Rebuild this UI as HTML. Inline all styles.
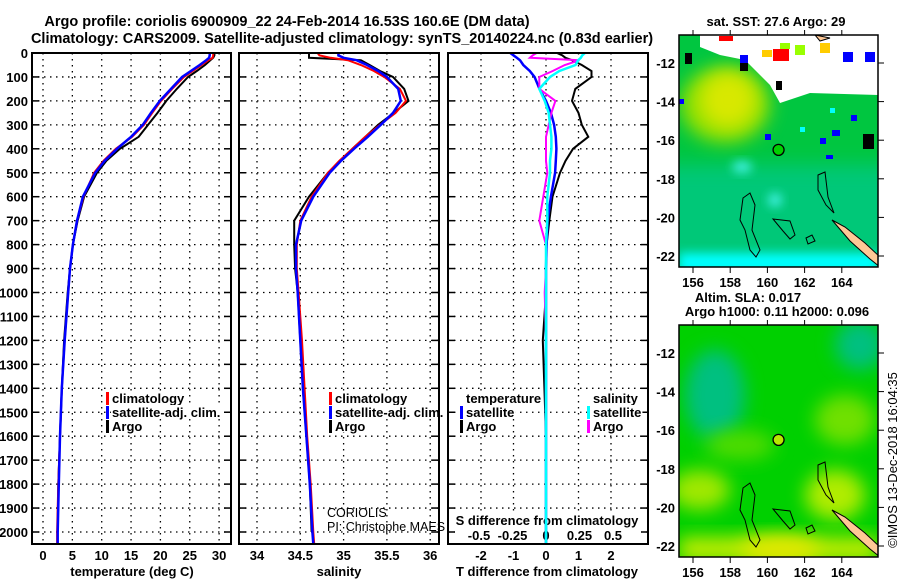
<!DOCTYPE html>
<html><head><meta charset="utf-8"><style>
html,body{margin:0;padding:0;background:#fff;}
svg{display:block;font-family:"Liberation Sans",sans-serif;}
.t{font-weight:bold;font-size:13px;}
</style></head><body>
<svg id="c" width="900" height="580" xmlns="http://www.w3.org/2000/svg">
<defs>
<filter id="bl" x="-50%" y="-50%" width="200%" height="200%"><feGaussianBlur stdDeviation="9"/></filter>
<filter id="bl2" x="-50%" y="-50%" width="200%" height="200%"><feGaussianBlur stdDeviation="5"/></filter>
<clipPath id="m1"><rect x="679" y="35" width="199" height="232"/></clipPath>
<clipPath id="m2"><rect x="679" y="325" width="199" height="232"/></clipPath>
</defs>
<text x="287" y="26" text-anchor="middle" font-weight="bold" font-size="14.5">Argo profile: coriolis 6900909_22 24-Feb-2014 16.53S 160.6E (DM data)</text>
<text x="342" y="43" text-anchor="middle" font-weight="bold" font-size="14.5">Climatology: CARS2009. Satellite-adjusted climatology: synTS_20140224.nc (0.83d earlier)</text>
<g id="g"></g>
</svg>
<script>
// ---------- data ----------
const depths = [0,10,20,30,50,75,100,150,200,250,300,350,400,450,500,600,700,800,900,1000,1200,1400,1600,1800,2000,2050];
const tempSat  = [28.4,28.4,28.3,27.8,26.7,25.2,23.7,21.8,19.9,18.4,17,15,12.6,10.5,8.9,6.8,5.8,5.1,4.6,4.3,3.7,3.2,2.9,2.7,2.5,2.5];
const tempClim = [29,29,28.9,28.2,27,25.5,24,22,20.1,18.6,17.2,15.2,12.4,10.3,8.7,6.9,5.8,5.1,4.6,4.3,3.7,3.2,2.9,2.6,2.4,2.4];
const tempArgo = [29.2,29.2,29,28.5,27.6,26.2,24.7,22.8,21,19.5,17.9,16.3,13.1,10.8,9.2,7,5.9,5.1,4.6,4.2,3.6,3.2,2.9,2.6,2.5];
const salSat  = [34.94,34.94,35.0,35.15,35.27,35.4,35.5,35.63,35.66,35.57,35.43,35.28,35.12,34.97,34.84,34.65,34.51,34.45,34.45,34.47,34.5,34.53,34.57,34.61,34.64,34.65];
const salClim = [34.7,34.72,34.85,35.05,35.2,35.35,35.47,35.65,35.72,35.6,35.42,35.25,35.1,34.95,34.82,34.63,34.5,34.46,34.46,34.48,34.52,34.55,34.58,34.62,34.65,34.66];
const salArgo = [34.6,34.6,34.6,35.2,35.3,35.42,35.57,35.7,35.75,35.58,35.4,35.25,35.1,34.96,34.82,34.6,34.43,34.43,34.44,34.47,34.5,34.53,34.57,34.61,34.63];
const tDiffArgo = [0.34,0.5,0.6,0.8,1.1,1.4,1.4,0.9,0.8,1.0,1.1,1.3,0.83,0.6,0.43,0.2,0.1,0.02,0,0,-0.1,-0.05,0,0,0];
const tDiffSat  = [-1.1,-1.0,-0.9,-0.8,-0.7,-0.5,-0.35,-0.2,0,0.15,0.25,0.3,0.32,0.3,0.28,0.15,0.05,0.02,0,0,0,0,0,0,0,0];
const sDiffArgo = [-0.07,-0.1,-0.12,0.25,0.14,0.05,-0.05,-0.05,0.07,0.04,0.02,0,0,0,0.01,-0.02,-0.05,0,0,-0.01,0,0,0,0,0];
const sDiffSat  = [0.29,0.27,0.26,0.24,0.22,0.1,0.03,-0.05,-0.01,0.02,0.03,0.04,0.04,0.03,0.03,0.01,0.01,0,0,0,0,0,0,0,0,0];
const depthTicks = [0,100,200,300,400,500,600,700,800,900,1000,1100,1200,1300,1400,1500,1600,1700,1800,1900,2000];
const tempTicks = [0,5,10,15,20,25,30];
const salTicks = [34,34.5,35,35.5,36];
const tdTicks = [-2,-1,0,1,2];
const sdTicks = [-0.5,-0.25,0,0.25,0.5];
const sdTickLabels = ['-0.5','-0.25','0','0.25','0.5'];
const lonTicks = [156,158,160,162,164];
const latTicks = [-12,-14,-16,-18,-20,-22];
const argoLon = 160.6, argoLat = -16.5;

// ---------- scales ----------
const yD = d => 53 + d*0.2395;
const xT = v => 43 + v*5.87;
const xS = v => 257 + (v-34)*86.6;
const xTd = v => 546 + v*32.5;
const xSd = v => 546 + v*134;
const lonX = v => 693 + (v-156)*18.6;
const latY = (v,top) => top + 28 + (-12 - v)*19.3;

const NS='http://www.w3.org/2000/svg';
const G=document.getElementById('g');
function el(tag,attrs,parent){const e=document.createElementNS(NS,tag);for(const k in attrs)e.setAttribute(k,attrs[k]);(parent||G).appendChild(e);return e;}
function txt(s,attrs,parent){const e=el('text',attrs,parent);e.textContent=s;return e;}

// panels
const panels=[{x0:32,x1:231,name:'temperature-panel'},{x0:239,x1:439,name:'salinity-panel'},{x0:448,x1:648,name:'difference-panel'}];
panels.forEach((p,i)=>{
  const g=el('g',{});
  
  
  depthTicks.forEach(d=>{
    const y=yD(d);
    el('line',{x1:p.x0,x2:p.x1,y1:y,y2:y,stroke:'#000','stroke-width':1.3,'stroke-dasharray':'1.5,4.5'},g);
    el('line',{x1:p.x1-7,x2:p.x1,y1:y,y2:y,stroke:'#000','stroke-width':1.5},g);
    el('line',{x1:p.x0,x2:p.x0+7,y1:y,y2:y,stroke:'#000','stroke-width':1.5},g);
  });
  const xt = i==0?tempTicks.map(xT):i==1?salTicks.map(xS):tdTicks.map(xTd);
  xt.forEach(x=>{el('line',{x1:x,x2:x,y1:53,y2:544,stroke:'#000','stroke-width':1.3,'stroke-dasharray':'1.5,4.5'},g);});
});
// depth labels
depthTicks.forEach(d=>{
  const t=txt(String(d),{x:28,y:yD(d)+5,'text-anchor':'end',class:'t'});
  
  
});
tempTicks.forEach(v=>{const t=txt(String(v),{x:xT(v),y:560,'text-anchor':'middle',class:'t'});
  
  });
salTicks.forEach(v=>{const t=txt(String(v),{x:xS(v),y:560,'text-anchor':'middle',class:'t'});
  
  });
tdTicks.forEach(v=>{const t=txt(String(v),{x:xTd(v),y:560,'text-anchor':'middle',class:'t'});
  
  });
el('rect',{x:455,y:511,width:186,height:32,fill:'#fff'});
sdTicks.forEach((v,i)=>{const t=txt(sdTickLabels[i],{x:xSd(v),y:540,'text-anchor':'middle',class:'t','font-size':12});
  
  });
[['temperature (deg C)',132,'temperature-axis-title'],['salinity',339,'salinity-axis-title'],['T difference from climatology',547,'t-diff-axis-title']].forEach(a=>{
  const t=txt(a[0],{x:a[1],y:576,'text-anchor':'middle',class:'t'});
  
  
});
{const t=txt('S difference from climatology',{x:547,y:525,'text-anchor':'middle',class:'t','font-size':12});
 
 }

// series
function series(vals,xf,color,name,w){
  const pts=vals.map((v,i)=>xf(v).toFixed(1)+','+yD(depths[i]).toFixed(1)).join(' ');
  const p=el('polyline',{points:pts,fill:'none',stroke:color,'stroke-width':w||2});
  
  
}
series(tempArgo,xT,'#000','temperature-argo-line');
series(tempClim,xT,'#f00','temperature-climatology-line');
series(tempSat,xT,'#00f','temperature-satellite-line',2.5);
series(salArgo,xS,'#000','salinity-argo-line');
series(salClim,xS,'#f00','salinity-climatology-line');
series(salSat,xS,'#00f','salinity-satellite-line',2.5);
series(tDiffArgo,xTd,'#000','t-diff-argo-line');
series(tDiffSat,xTd,'#00f','t-diff-satellite-line',2.5);
series(sDiffArgo,xSd,'#f0f','s-diff-argo-line');
series(sDiffSat,xSd,'#0ff','s-diff-satellite-line',2.5);

// legends
function legend(x,rows,name){
  const g=el('g',{});
  
  
  rows.forEach(r=>{
    if(r[1]) el('rect',{x:x-1,y:r[2]-6,width:3,height:13,fill:r[1]},g);
    const t=txt(r[0],{x:x+5,y:r[2]+5,class:'t','font-size':12.5},g);
    const w=t.getComputedTextLength();
    const bg=el('rect',{x:x+4,y:r[2]-7,width:w+2,height:13,fill:'#fff'});
    g.insertBefore(bg,t);
  });
}
legend(107,[['climatology','#f00',398],['satellite-adj. clim.','#00f',412],['Argo','#000',426]],'legend-temperature');
legend(330,[['climatology','#f00',398],['satellite-adj. clim.','#00f',412],['Argo','#000',426]],'legend-salinity');
legend(461,[['temperature',null,398],['satellite','#00f',412],['Argo','#000',426]],'legend-t-diff');
legend(588,[['salinity',null,398],['satellite','#0ff',412],['Argo','#f0f',426]],'legend-s-diff');
txt('CORIOLIS',{x:327,y:517,'font-size':12.5,});
txt('PI: Christophe MAES',{x:327,y:531,'font-size':12.5,});
panels.forEach(p=>{
  const r=el('rect',{x:p.x0,y:53,width:p.x1-p.x0,height:491,fill:'none',stroke:'#000','stroke-width':2});
  
  
});

// ---------- maps ----------
function mapAxes(top,name){
  const g=el('g',{});
  
  
  el('rect',{x:679,y:top,width:199,height:232,fill:'none',stroke:'#000','stroke-width':1.5},g);
  lonTicks.forEach(v=>{
    el('line',{x1:lonX(v),x2:lonX(v),y1:top+232,y2:top+238,stroke:'#000'},g);
    el('line',{x1:lonX(v),x2:lonX(v),y1:top,y2:top-5,stroke:'#000'},g);
    txt(String(v),{x:lonX(v),y:top+252,'text-anchor':'middle',class:'t'},g);
  });
  latTicks.forEach(v=>{
    el('line',{x1:878,x2:884,y1:latY(v,top),y2:latY(v,top),stroke:'#000'},g);
    txt(String(v),{x:675,y:latY(v,top)+5,'text-anchor':'end',class:'t'},g);
  });
}
// SST map
(function(){
  const top=35;
  const g=el('g',{'clip-path':'url(#m1)'});
  
  
  el('rect',{x:679,y:top,width:199,height:232,fill:'#00c878'},g);
  el('rect',{x:660,y:top-20,width:240,height:150,fill:'#00c640',filter:'url(#bl)'},g);
  el('ellipse',{cx:725,cy:top+70,rx:45,ry:38,fill:'#90e000',filter:'url(#bl)'},g);
  el('ellipse',{cx:728,cy:top+65,rx:28,ry:28,fill:'#d8e800',filter:'url(#bl)'},g);
  el('rect',{x:679,y:top+218,width:199,height:20,fill:'#00ffff',filter:'url(#bl2)'},g);
  el('ellipse',{cx:742,cy:top+132,rx:10,ry:6,fill:'#40f0e0',filter:'url(#bl2)'},g);
  el('ellipse',{cx:775,cy:top+165,rx:7,ry:7,fill:'#40f0e0',filter:'url(#bl2)'},g);
  // white (no data)
  el('path',{d:`M700 ${top} L878 ${top} L878 ${top+60} L810 ${top+58} L780 ${top+68} L770 ${top+50} L745 ${top+25} L720 ${top+20} L700 ${top+12} Z`,fill:'#fff'},g);
  [[719,top+1,14,5,'#f00'],[773,top+14,16,12,'#f00'],[780,top+8,10,6,'#9f0'],[795,top+10,10,10,'#9f0'],[820,top+8,10,10,'#fc0'],[843,top+17,10,10,'#00f'],[865,top+17,10,10,'#00f'],[762,top+15,10,7,'#fc0'],[685,top+18,7,11,'#000'],[740,top+20,8,8,'#00f'],[740,top+28,8,8,'#000'],[776,top+46,6,9,'#000'],[863,top+99,11,15,'#000'],[832,top+95,8,6,'#00f'],[820,top+103,6,6,'#00f'],[765,top+99,6,6,'#00f'],[826,top+120,7,4,'#00f'],[851,top+80,6,6,'#00f'],[830,top+73,5,5,'#0ff'],[800,top+92,5,5,'#0ff'],[679,top+64,5,5,'#00f']]
    .forEach(r=>el('rect',{x:r[0],y:r[1],width:r[2],height:r[3],fill:r[4]},g));
  el('path',{d:`M815 ${top} L830 ${top+3} L820 ${top+6} Z`,fill:'#ffc896',stroke:'#000'},g);
})();
// SLA map
(function(){
  const top=325;
  const g=el('g',{'clip-path':'url(#m2)'});
  
  
  el('rect',{x:679,y:top,width:199,height:232,fill:'#00d000'},g);
  el('ellipse',{cx:715,cy:top+70,rx:30,ry:45,fill:'#00c080',filter:'url(#bl)'},g);
  el('ellipse',{cx:860,cy:top+20,rx:25,ry:25,fill:'#00c080',filter:'url(#bl)'},g);
  el('ellipse',{cx:740,cy:top+120,rx:35,ry:15,fill:'#50dc00',filter:'url(#bl)'},g);
  el('ellipse',{cx:845,cy:top+95,rx:30,ry:25,fill:'#70e000',filter:'url(#bl)'},g);
  el('ellipse',{cx:700,cy:top+165,rx:30,ry:20,fill:'#a0e800',filter:'url(#bl)'},g);
  el('ellipse',{cx:835,cy:top+170,rx:30,ry:25,fill:'#b0ec00',filter:'url(#bl)'},g);
  el('rect',{x:679,y:top+212,width:199,height:25,fill:'#c0ec00',filter:'url(#bl)'},g);
  el('ellipse',{cx:780,cy:top+225,rx:40,ry:14,fill:'#e0e800',filter:'url(#bl)'},g);
})();
// land + contours in both maps
[35,325].forEach((top,k)=>{
  const g=el('g',{'clip-path':k?'url(#m2)':'url(#m1)'});
  
  
  el('path',{d:`M832 ${top+185} L845 ${top+192} L865 ${top+208} L880 ${top+222} L880 ${top+232} L870 ${top+224} L850 ${top+206} Z`,fill:'#ffc896',stroke:'#000'},g);
  const c='fill:none;stroke:#000;stroke-width:1';
  el('path',{d:`M743 ${top+163} L750 ${top+158} L755 ${top+170} L752 ${top+195} L760 ${top+215} L756 ${top+222} L750 ${top+215} L745 ${top+195} L740 ${top+185} Z`,style:c},g);
  el('path',{d:`M773 ${top+184} L790 ${top+186} L795 ${top+200} L790 ${top+204} L783 ${top+196} Z`,style:c},g);
  el('path',{d:`M818 ${top+140} L825 ${top+137} L828 ${top+162} L834 ${top+178} L826 ${top+170} L818 ${top+155} Z`,style:c},g);
  el('path',{d:`M806 ${top+203} L812 ${top+200} L815 ${top+206} L808 ${top+209} Z`,style:c},g);
  el('circle',{cx:lonX(argoLon),cy:latY(argoLat,top),r:5.5,fill:k?'#b8e800':'#00d000',stroke:'#000','stroke-width':1.3},g);
});
mapAxes(35,'sst-map-axes');
mapAxes(325,'sla-map-axes');
txt('sat. SST: 27.6 Argo: 29',{x:776,y:26,'text-anchor':'middle',class:'t',});
txt('Altim. SLA: 0.017',{x:748,y:302,'text-anchor':'middle',class:'t',});
txt('Argo h1000: 0.11 h2000: 0.096',{x:777,y:316,'text-anchor':'middle',class:'t',});
txt('©IMOS 13-Dec-2018 16:04:35',{x:0,y:0,'font-size':13,'text-anchor':'middle',transform:'translate(897,460) rotate(-90)',});
</script>
</body></html>
